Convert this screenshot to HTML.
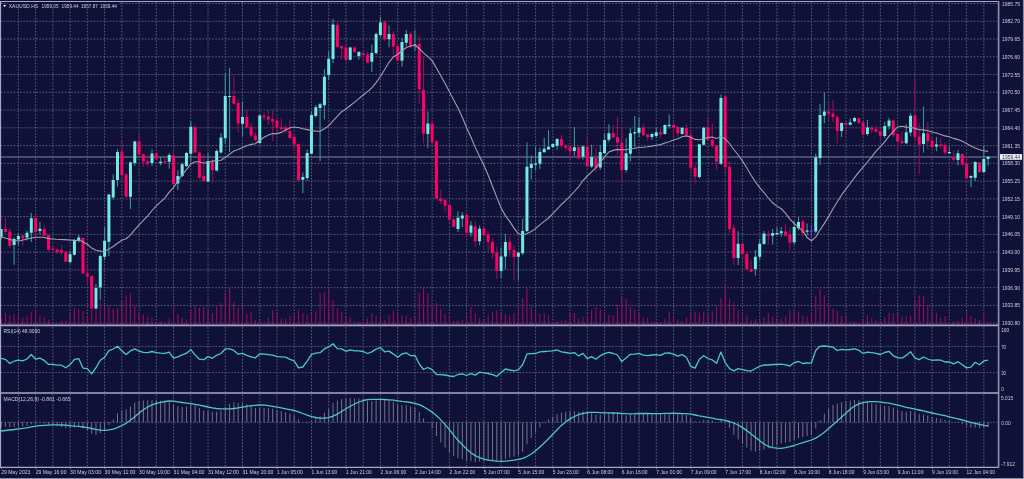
<!DOCTYPE html>
<html><head><meta charset="utf-8"><style>
html,body{margin:0;padding:0;background:#0f1138;width:1024px;height:479px;overflow:hidden}
body{position:relative}
</style></head><body>
<svg width="1024" height="479" viewBox="0 0 1024 479" style="position:absolute;left:0;top:0"><rect x="0" y="0" width="1024" height="479" fill="#0f1138"/><path d="M1 3.50H997.5 M1 21.26H997.5 M1 39.02H997.5 M1 56.78H997.5 M1 74.54H997.5 M1 92.30H997.5 M1 110.06H997.5 M1 127.82H997.5 M1 145.58H997.5 M1 163.34H997.5 M1 181.10H997.5 M1 198.86H997.5 M1 216.62H997.5 M1 234.38H997.5 M1 252.14H997.5 M1 269.90H997.5 M1 287.66H997.5 M1 305.42H997.5 M1 323.18H997.5 M1 346.40H997.5 M1 372.60H997.5 M18.39 2V324 M18.39 327V392 M18.39 394.5V466.5 M35.63 2V324 M35.63 327V392 M35.63 394.5V466.5 M52.87 2V324 M52.87 327V392 M52.87 394.5V466.5 M70.11 2V324 M70.11 327V392 M70.11 394.5V466.5 M87.35 2V324 M87.35 327V392 M87.35 394.5V466.5 M104.59 2V324 M104.59 327V392 M104.59 394.5V466.5 M121.83 2V324 M121.83 327V392 M121.83 394.5V466.5 M139.07 2V324 M139.07 327V392 M139.07 394.5V466.5 M156.31 2V324 M156.31 327V392 M156.31 394.5V466.5 M173.55 2V324 M173.55 327V392 M173.55 394.5V466.5 M190.79 2V324 M190.79 327V392 M190.79 394.5V466.5 M208.03 2V324 M208.03 327V392 M208.03 394.5V466.5 M225.27 2V324 M225.27 327V392 M225.27 394.5V466.5 M242.51 2V324 M242.51 327V392 M242.51 394.5V466.5 M259.75 2V324 M259.75 327V392 M259.75 394.5V466.5 M276.99 2V324 M276.99 327V392 M276.99 394.5V466.5 M294.23 2V324 M294.23 327V392 M294.23 394.5V466.5 M311.47 2V324 M311.47 327V392 M311.47 394.5V466.5 M328.71 2V324 M328.71 327V392 M328.71 394.5V466.5 M345.95 2V324 M345.95 327V392 M345.95 394.5V466.5 M363.19 2V324 M363.19 327V392 M363.19 394.5V466.5 M380.43 2V324 M380.43 327V392 M380.43 394.5V466.5 M397.67 2V324 M397.67 327V392 M397.67 394.5V466.5 M414.91 2V324 M414.91 327V392 M414.91 394.5V466.5 M432.15 2V324 M432.15 327V392 M432.15 394.5V466.5 M449.39 2V324 M449.39 327V392 M449.39 394.5V466.5 M466.63 2V324 M466.63 327V392 M466.63 394.5V466.5 M483.87 2V324 M483.87 327V392 M483.87 394.5V466.5 M501.11 2V324 M501.11 327V392 M501.11 394.5V466.5 M518.35 2V324 M518.35 327V392 M518.35 394.5V466.5 M535.59 2V324 M535.59 327V392 M535.59 394.5V466.5 M552.83 2V324 M552.83 327V392 M552.83 394.5V466.5 M570.07 2V324 M570.07 327V392 M570.07 394.5V466.5 M587.31 2V324 M587.31 327V392 M587.31 394.5V466.5 M604.55 2V324 M604.55 327V392 M604.55 394.5V466.5 M621.79 2V324 M621.79 327V392 M621.79 394.5V466.5 M639.03 2V324 M639.03 327V392 M639.03 394.5V466.5 M656.27 2V324 M656.27 327V392 M656.27 394.5V466.5 M673.51 2V324 M673.51 327V392 M673.51 394.5V466.5 M690.75 2V324 M690.75 327V392 M690.75 394.5V466.5 M707.99 2V324 M707.99 327V392 M707.99 394.5V466.5 M725.23 2V324 M725.23 327V392 M725.23 394.5V466.5 M742.47 2V324 M742.47 327V392 M742.47 394.5V466.5 M759.71 2V324 M759.71 327V392 M759.71 394.5V466.5 M776.95 2V324 M776.95 327V392 M776.95 394.5V466.5 M794.19 2V324 M794.19 327V392 M794.19 394.5V466.5 M811.43 2V324 M811.43 327V392 M811.43 394.5V466.5 M828.67 2V324 M828.67 327V392 M828.67 394.5V466.5 M845.91 2V324 M845.91 327V392 M845.91 394.5V466.5 M863.15 2V324 M863.15 327V392 M863.15 394.5V466.5 M880.39 2V324 M880.39 327V392 M880.39 394.5V466.5 M897.63 2V324 M897.63 327V392 M897.63 394.5V466.5 M914.87 2V324 M914.87 327V392 M914.87 394.5V466.5 M932.11 2V324 M932.11 327V392 M932.11 394.5V466.5 M949.35 2V324 M949.35 327V392 M949.35 394.5V466.5 M966.59 2V324 M966.59 327V392 M966.59 394.5V466.5 M983.83 2V324 M983.83 327V392 M983.83 394.5V466.5" stroke="#5c5f7e" stroke-width="1" stroke-dasharray="1.6 1.6" fill="none"/><path d="M1 422.3H997.5" stroke="#5c5f7e" stroke-width="1" stroke-dasharray="1.6 1.6" fill="none"/><path d="M1.15 324.5V318.6 M5.46 324.5V313.0 M9.77 324.5V315.3 M14.08 324.5V314.0 M18.39 324.5V315.3 M22.70 324.5V317.4 M27.01 324.5V316.8 M31.32 324.5V312.0 M35.63 324.5V309.9 M39.94 324.5V314.9 M44.25 324.5V316.8 M48.56 324.5V319.5 M52.87 324.5V322.8 M57.18 324.5V323.4 M61.49 324.5V320.8 M65.80 324.5V320.5 M70.11 324.5V313.0 M74.42 324.5V307.8 M78.73 324.5V309.3 M83.04 324.5V311.1 M87.35 324.5V316.5 M91.66 324.5V309.9 M95.97 324.5V302.4 M100.28 324.5V302.0 M104.59 324.5V307.0 M108.90 324.5V304.9 M113.21 324.5V309.3 M117.52 324.5V308.6 M121.83 324.5V301.1 M126.14 324.5V295.3 M130.45 324.5V293.3 M134.76 324.5V306.1 M139.07 324.5V312.8 M143.38 324.5V314.3 M147.69 324.5V316.5 M152.00 324.5V317.4 M156.31 324.5V322.0 M160.62 324.5V322.0 M164.93 324.5V322.4 M169.24 324.5V318.6 M173.55 324.5V305.5 M177.86 324.5V314.0 M182.17 324.5V317.0 M186.48 324.5V319.3 M190.79 324.5V309.3 M195.10 324.5V306.1 M199.41 324.5V307.4 M203.72 324.5V307.0 M208.03 324.5V309.3 M212.34 324.5V313.0 M216.65 324.5V304.9 M220.96 324.5V303.0 M225.27 324.5V293.0 M229.58 324.5V286.5 M233.89 324.5V302.0 M238.20 324.5V307.4 M242.51 324.5V307.2 M246.82 324.5V314.0 M251.13 324.5V312.0 M255.44 324.5V319.9 M259.75 324.5V319.9 M264.06 324.5V321.1 M268.37 324.5V317.4 M272.68 324.5V310.3 M276.99 324.5V314.5 M281.30 324.5V318.6 M285.61 324.5V319.0 M289.92 324.5V315.8 M294.23 324.5V313.0 M298.54 324.5V309.3 M302.85 324.5V313.0 M307.16 324.5V314.9 M311.47 324.5V314.0 M315.78 324.5V311.1 M320.09 324.5V293.0 M324.40 324.5V291.8 M328.71 324.5V288.6 M333.02 324.5V299.9 M337.33 324.5V307.8 M341.64 324.5V311.5 M345.95 324.5V316.1 M350.26 324.5V317.4 M354.57 324.5V322.0 M358.88 324.5V322.0 M363.19 324.5V322.4 M367.50 324.5V318.0 M371.81 324.5V313.0 M376.12 324.5V315.8 M380.43 324.5V315.3 M384.74 324.5V319.9 M389.05 324.5V314.9 M393.36 324.5V310.8 M397.67 324.5V314.0 M401.98 324.5V314.9 M406.29 324.5V315.8 M410.60 324.5V318.0 M414.91 324.5V317.0 M419.22 324.5V293.0 M423.53 324.5V286.8 M427.84 324.5V292.8 M432.15 324.5V306.1 M436.46 324.5V302.4 M440.77 324.5V309.0 M445.08 324.5V314.0 M449.39 324.5V316.5 M453.70 324.5V320.8 M458.01 324.5V319.9 M462.32 324.5V319.9 M466.63 324.5V317.0 M470.94 324.5V307.0 M475.25 324.5V312.8 M479.56 324.5V318.0 M483.87 324.5V319.0 M488.18 324.5V315.3 M492.49 324.5V312.0 M496.80 324.5V310.3 M501.11 324.5V314.0 M505.42 324.5V314.0 M509.73 324.5V314.9 M514.04 324.5V313.0 M518.35 324.5V307.0 M522.66 324.5V298.0 M526.97 324.5V288.3 M531.28 324.5V306.8 M535.59 324.5V310.8 M539.90 324.5V314.0 M544.21 324.5V313.6 M548.52 324.5V314.9 M552.83 324.5V322.0 M557.14 324.5V321.1 M561.45 324.5V320.8 M565.76 324.5V319.9 M570.07 324.5V313.0 M574.38 324.5V313.0 M578.69 324.5V318.6 M583.00 324.5V316.8 M587.31 324.5V315.8 M591.62 324.5V310.3 M595.93 324.5V307.0 M600.24 324.5V309.3 M604.55 324.5V313.0 M608.86 324.5V314.9 M613.17 324.5V315.3 M617.48 324.5V304.9 M621.79 324.5V298.3 M626.10 324.5V299.0 M630.41 324.5V307.0 M634.72 324.5V309.3 M639.03 324.5V314.0 M643.34 324.5V317.4 M647.65 324.5V318.0 M651.96 324.5V322.0 M656.27 324.5V321.8 M660.58 324.5V321.8 M664.89 324.5V318.6 M669.20 324.5V311.8 M673.51 324.5V315.8 M677.82 324.5V319.3 M682.13 324.5V321.1 M686.44 324.5V317.4 M690.75 324.5V312.8 M695.06 324.5V311.8 M699.37 324.5V312.8 M703.68 324.5V311.8 M707.99 324.5V314.5 M712.30 324.5V311.1 M716.61 324.5V305.8 M720.92 324.5V298.0 M725.23 324.5V284.0 M729.54 324.5V298.8 M733.85 324.5V302.5 M738.16 324.5V309.4 M742.47 324.5V315.0 M746.78 324.5V315.3 M751.09 324.5V320.6 M755.40 324.5V319.0 M759.71 324.5V320.0 M764.02 324.5V317.3 M768.33 324.5V312.8 M772.64 324.5V316.3 M776.95 324.5V317.8 M781.26 324.5V318.5 M785.57 324.5V316.3 M789.88 324.5V309.8 M794.19 324.5V311.3 M798.50 324.5V311.5 M802.81 324.5V315.0 M807.12 324.5V316.3 M811.43 324.5V314.0 M815.74 324.5V296.0 M820.05 324.5V289.4 M824.36 324.5V295.0 M828.67 324.5V305.6 M832.98 324.5V308.8 M837.29 324.5V311.0 M841.60 324.5V316.0 M845.91 324.5V315.6 M850.22 324.5V321.9 M854.53 324.5V322.3 M858.84 324.5V322.8 M863.15 324.5V319.0 M867.46 324.5V315.3 M871.77 324.5V317.8 M876.08 324.5V319.8 M880.39 324.5V321.0 M884.70 324.5V317.3 M889.01 324.5V313.1 M893.32 324.5V312.8 M897.63 324.5V314.0 M901.94 324.5V316.5 M906.25 324.5V316.3 M910.56 324.5V316.0 M914.87 324.5V300.3 M919.18 324.5V295.6 M923.49 324.5V296.5 M927.80 324.5V305.0 M932.11 324.5V311.3 M936.42 324.5V312.8 M940.73 324.5V317.8 M945.04 324.5V316.0 M949.35 324.5V322.3 M953.66 324.5V322.0 M957.97 324.5V320.8 M962.28 324.5V317.4 M966.59 324.5V311.1 M970.90 324.5V315.7 M975.21 324.5V318.5 M979.52 324.5V319.8 M983.83 324.5V315.2 M988.14 324.5V322.0" stroke="#960c5c" stroke-width="1.1" fill="none"/><path d="M1 157.0H997.5" stroke="#5c5e80" stroke-width="1.4" fill="none"/><path d="M1.15 229.1V240.5 M14.08 237.5V264.7 M18.39 233.2V245.0 M27.01 230.8V240.5 M31.32 213.1V241.9 M39.94 222.0V234.2 M70.11 250.9V263.7 M74.42 239.0V255.5 M78.73 235.0V242.5 M95.97 283.8V309.0 M100.28 254.2V300.2 M104.59 227.0V260.0 M108.90 194.0V255.9 M113.21 174.5V199.7 M117.52 149.2V186.5 M130.45 161.3V209.1 M134.76 140.5V165.7 M152.00 149.2V166.0 M160.62 157.0V165.5 M169.24 153.1V168.8 M177.86 170.2V190.0 M182.17 162.5V177.0 M186.48 152.0V167.0 M190.79 121.4V161.8 M208.03 153.1V182.0 M216.65 149.2V171.5 M220.96 132.9V153.6 M225.27 72.9V143.7 M229.58 67.9V151.9 M242.51 101.4V136.3 M259.75 114.0V144.4 M302.85 172.4V192.9 M307.16 149.2V180.8 M311.47 111.3V154.5 M315.78 105.2V117.4 M320.09 103.1V161.3 M324.40 69.2V119.4 M328.71 51.6V80.0 M333.02 19.0V63.1 M350.26 46.8V60.5 M358.88 50.9V59.7 M371.81 44.6V71.7 M376.12 32.6V54.7 M380.43 17.0V37.1 M389.05 25.6V47.3 M401.98 37.8V66.7 M406.29 30.1V46.6 M414.91 30.3V50.7 M427.84 111.4V148.0 M458.01 211.2V231.9 M462.32 212.0V227.3 M470.94 221.3V236.6 M479.56 225.6V245.2 M501.11 247.6V278.1 M505.42 234.3V269.2 M518.35 251.9V279.8 M522.66 218.5V255.0 M526.97 142.4V232.0 M531.28 155.5V179.7 M535.59 146.8V170.8 M539.90 147.8V169.1 M544.21 137.9V152.5 M548.52 130.2V149.8 M552.83 143.5V148.0 M557.14 138.3V149.8 M574.38 127.0V155.8 M583.00 145.5V159.7 M591.62 144.8V167.9 M600.24 145.1V169.9 M604.55 133.3V154.0 M608.86 124.2V142.1 M626.10 138.3V172.6 M630.41 128.3V161.4 M634.72 116.0V147.5 M639.03 117.4V136.9 M651.96 133.2V140.0 M656.27 127.8V138.0 M664.89 124.5V134.5 M669.20 114.6V128.5 M682.13 127.2V134.5 M699.37 143.8V178.6 M703.68 127.0V145.5 M720.92 94.4V165.1 M738.16 231.3V264.9 M755.40 250.0V275.5 M759.71 239.1V260.2 M764.02 231.0V244.8 M772.64 229.0V244.6 M776.95 227.4V235.0 M781.26 227.0V236.8 M794.19 221.2V244.6 M798.50 217.0V230.6 M807.12 223.5V235.7 M815.74 153.4V233.2 M820.05 104.1V165.0 M824.36 92.3V123.6 M841.60 122.6V137.0 M850.22 118.5V125.2 M854.53 117.0V122.5 M867.46 120.0V135.7 M884.70 121.9V138.0 M889.01 117.7V129.4 M906.25 124.0V144.3 M910.56 113.0V136.0 M923.49 106.6V152.7 M936.42 137.1V151.2 M949.35 146.5V154.0 M957.97 150.0V165.5 M970.90 175.2V187.3 M975.21 161.2V181.0 M983.83 145.3V173.5 M988.14 156.3V165.8" stroke="#3a9098" stroke-width="1.1" fill="none"/><path d="M5.46 217.9V232.8 M9.77 228.3V247.7 M22.70 235.1V245.7 M35.63 213.8V240.9 M44.25 225.3V236.2 M48.56 235.1V251.8 M52.87 245.7V253.1 M57.18 248.5V254.0 M61.49 245.0V254.6 M65.80 251.0V262.0 M83.04 237.0V273.8 M87.35 265.0V283.5 M91.66 275.5V309.3 M121.83 140.5V181.0 M126.14 173.5V197.5 M139.07 135.0V155.5 M143.38 153.5V166.8 M147.69 154.7V166.8 M156.31 152.5V160.1 M164.93 157.0V163.5 M173.55 150.1V184.5 M195.10 125.0V153.1 M199.41 152.0V178.5 M203.72 154.3V181.5 M212.34 159.0V183.3 M233.89 75.2V104.5 M238.20 99.3V132.2 M246.82 109.9V128.0 M251.13 123.4V137.6 M255.44 132.2V141.0 M264.06 112.4V120.5 M268.37 110.2V124.8 M272.68 109.9V141.1 M276.99 118.7V135.0 M281.30 118.0V131.0 M285.61 125.1V133.2 M289.92 119.4V138.6 M294.23 134.3V150.8 M298.54 143.1V182.0 M337.33 21.1V47.5 M341.64 45.5V59.7 M345.95 43.7V62.5 M354.57 46.2V53.0 M363.19 51.6V60.4 M367.50 51.6V63.3 M384.74 20.2V41.2 M393.36 31.0V54.7 M397.67 43.2V61.0 M410.60 31.7V48.0 M419.22 36.0V103.7 M423.53 56.1V143.2 M432.15 120.8V147.3 M436.46 140.0V199.0 M440.77 189.4V204.3 M445.08 199.6V211.4 M449.39 204.3V223.3 M453.70 218.5V227.5 M466.63 214.5V237.4 M475.25 221.7V246.8 M483.87 226.0V237.0 M488.18 231.1V252.6 M492.49 238.2V258.5 M496.80 246.8V278.9 M509.73 236.0V257.2 M514.04 245.7V280.1 M561.45 134.9V148.5 M565.76 144.1V150.9 M570.07 145.8V160.0 M578.69 146.5V159.7 M587.31 137.4V167.0 M595.93 147.5V172.0 M613.17 125.2V138.0 M617.48 116.4V155.0 M621.79 126.9V180.5 M643.34 123.7V135.9 M647.65 133.9V140.4 M660.58 128.7V138.0 M673.51 121.0V136.6 M677.82 126.4V136.6 M686.44 124.4V135.9 M690.75 130.2V170.9 M695.06 165.1V183.4 M707.99 117.0V141.0 M712.30 123.3V148.1 M716.61 145.0V170.5 M725.23 95.1V173.9 M729.54 161.0V232.9 M733.85 224.7V264.9 M742.47 241.5V258.7 M746.78 251.6V269.5 M751.09 260.2V272.3 M768.33 230.5V244.6 M785.57 224.3V236.8 M789.88 227.4V251.0 M802.81 219.6V236.0 M828.67 103.3V120.5 M832.98 99.7V122.1 M837.29 115.0V143.2 M845.91 122.3V134.6 M858.84 117.5V123.5 M863.15 122.0V135.4 M871.77 125.5V133.3 M876.08 125.5V132.5 M880.39 127.9V140.4 M893.32 120.0V137.0 M897.63 133.3V150.6 M901.94 131.0V143.5 M914.87 78.0V141.2 M919.18 123.5V173.9 M927.80 121.9V149.6 M932.11 137.1V148.8 M940.73 137.9V148.8 M945.04 142.6V155.1 M953.66 150.9V161.4 M962.28 153.5V165.3 M966.59 156.3V179.8 M979.52 162.0V172.9" stroke="#960c58" stroke-width="1.1" fill="none"/><path d="M811.43 224.8V237.6" stroke="#7040d0" stroke-width="1.1" fill="none"/><path d="M-0.35 229.1h3v7.8h-3z M12.58 238.9h3v6.1h-3z M16.89 235.9h3v3.7h-3z M25.51 232.8h3v4.7h-3z M29.82 218.3h3v14.5h-3z M38.44 228.7h3v2.3h-3z M68.61 254.2h3v7.9h-3z M72.92 240.0h3v14.7h-3z M77.23 237.5h3v3.3h-3z M94.47 288.0h3v20.5h-3z M98.78 255.9h3v31.7h-3z M103.09 240.8h3v15.9h-3z M107.40 194.6h3v47.1h-3z M111.71 180.0h3v17.5h-3z M116.02 152.0h3v28.0h-3z M128.95 162.4h3v34.4h-3z M133.26 141.6h3v21.4h-3z M150.50 153.4h3v9.6h-3z M159.12 161.8h3v1.3h-3z M167.74 155.1h3v6.7h-3z M176.36 176.0h3v7.5h-3z M180.67 164.3h3v11.7h-3z M184.98 153.1h3v12.9h-3z M189.29 126.7h3v27.1h-3z M206.53 161.0h3v20.5h-3z M215.15 150.9h3v19.5h-3z M219.46 137.6h3v14.9h-3z M223.77 95.9h3v42.4h-3z M228.08 95.9h3v1.2h-3z M241.01 117.0h3v6.8h-3z M258.25 115.6h3v27.4h-3z M301.35 177.0h3v2.7h-3z M305.66 152.9h3v25.0h-3z M309.97 115.1h3v38.6h-3z M314.28 107.2h3v8.8h-3z M318.59 104.2h3v3.7h-3z M322.90 76.7h3v28.5h-3z M327.21 58.7h3v16.2h-3z M331.52 24.5h3v34.6h-3z M348.76 47.5h3v12.2h-3z M357.38 51.9h3v4.1h-3z M370.31 53.0h3v8.8h-3z M374.62 34.1h3v18.9h-3z M378.93 22.5h3v12.6h-3z M387.55 34.1h3v5.1h-3z M400.48 41.9h3v18.9h-3z M404.79 34.1h3v8.7h-3z M413.41 44.6h3v1.4h-3z M426.34 123.6h3v10.5h-3z M456.51 217.8h3v11.2h-3z M460.82 215.5h3v3.1h-3z M469.44 225.6h3v7.1h-3z M478.06 228.8h3v12.5h-3z M499.61 256.6h3v14.4h-3z M503.92 242.1h3v14.5h-3z M516.85 252.7h3v4.1h-3z M521.16 231.0h3v22.3h-3z M525.47 166.8h3v64.2h-3z M529.78 164.1h3v4.0h-3z M534.09 163.4h3v1.3h-3z M538.40 151.9h3v11.8h-3z M542.71 148.7h3v3.6h-3z M547.02 146.8h3v2.8h-3z M551.33 144.1h3v3.0h-3z M555.64 139.0h3v6.8h-3z M572.88 147.2h3v3.7h-3z M581.50 146.5h3v10.3h-3z M590.12 157.0h3v9.5h-3z M598.74 151.9h3v15.7h-3z M603.05 140.1h3v13.1h-3z M607.36 133.3h3v6.4h-3z M624.60 153.2h3v16.7h-3z M628.91 133.3h3v20.5h-3z M633.22 132.3h3v1.3h-3z M637.53 127.8h3v5.0h-3z M650.46 133.9h3v3.0h-3z M654.77 132.3h3v3.6h-3z M663.39 125.1h3v8.8h-3z M667.70 124.7h3v1.3h-3z M680.63 127.8h3v6.1h-3z M697.87 144.2h3v32.7h-3z M702.18 127.7h3v17.1h-3z M719.42 98.0h3v65.7h-3z M736.66 243.8h3v14.1h-3z M753.90 256.7h3v12.2h-3z M758.21 243.8h3v12.9h-3z M762.52 233.6h3v10.5h-3z M771.14 232.9h3v2.8h-3z M775.45 232.9h3v1.6h-3z M779.76 231.3h3v1.9h-3z M792.69 227.0h3v15.3h-3z M797.00 222.0h3v6.2h-3z M805.62 230.6h3v1.2h-3z M814.24 157.3h3v74.3h-3z M818.55 115.0h3v43.1h-3z M822.86 111.6h3v4.2h-3z M840.10 122.9h3v8.1h-3z M848.72 122.6h3v2.1h-3z M853.03 117.9h3v3.4h-3z M865.96 127.4h3v6.6h-3z M883.20 126.0h3v10.0h-3z M887.51 120.4h3v5.9h-3z M904.75 132.2h3v11.0h-3z M909.06 115.7h3v16.9h-3z M921.99 133.2h3v10.9h-3z M934.92 144.4h3v2.1h-3z M947.85 152.0h3v1.2h-3z M956.47 153.2h3v6.9h-3z M969.40 176.1h3v1.7h-3z M973.71 162.0h3v15.8h-3z M982.33 159.1h3v12.9h-3z M986.64 156.8h3v2.1h-3z" fill="#72ece2"/><path d="M3.96 229.1h3v3.0h-3z M8.27 231.4h3v14.3h-3z M21.20 235.5h3v2.7h-3z M34.13 217.9h3v14.2h-3z M42.75 229.1h3v6.4h-3z M47.06 235.1h3v14.6h-3z M51.37 248.7h3v1.2h-3z M55.68 249.5h3v2.8h-3z M59.99 250.0h3v2.5h-3z M64.30 251.7h3v10.0h-3z M81.54 238.0h3v35.4h-3z M85.85 273.4h3v3.0h-3z M90.16 276.0h3v32.5h-3z M120.33 151.4h3v23.7h-3z M124.64 174.5h3v22.3h-3z M137.57 141.6h3v13.1h-3z M141.88 154.3h3v7.4h-3z M146.19 161.3h3v2.2h-3z M154.81 153.3h3v6.0h-3z M163.43 161.0h3v1.6h-3z M172.05 155.5h3v28.4h-3z M193.60 127.5h3v25.1h-3z M197.91 152.6h3v25.1h-3z M202.22 176.0h3v5.0h-3z M210.84 161.8h3v8.2h-3z M232.39 95.9h3v7.8h-3z M236.70 103.1h3v20.3h-3z M245.32 117.0h3v10.5h-3z M249.63 126.8h3v8.8h-3z M253.94 135.6h3v4.5h-3z M262.56 115.8h3v1.2h-3z M266.87 116.8h3v2.7h-3z M271.18 119.1h3v2.3h-3z M275.49 120.5h3v7.3h-3z M279.80 127.5h3v1.4h-3z M284.11 127.5h3v2.5h-3z M288.42 130.9h3v7.2h-3z M292.73 137.0h3v7.6h-3z M297.04 144.1h3v36.1h-3z M335.83 24.8h3v22.1h-3z M340.14 46.2h3v2.4h-3z M344.45 47.5h3v12.2h-3z M353.07 47.5h3v4.4h-3z M361.69 53.0h3v2.0h-3z M366.00 54.6h3v8.1h-3z M383.24 22.2h3v17.0h-3z M391.86 34.1h3v12.5h-3z M396.17 45.9h3v14.5h-3z M409.10 34.1h3v12.5h-3z M417.72 43.9h3v45.3h-3z M422.03 90.1h3v43.6h-3z M430.65 123.6h3v18.7h-3z M434.96 141.2h3v57.4h-3z M439.27 198.6h3v2.3h-3z M443.58 200.0h3v5.7h-3z M447.89 205.0h3v14.5h-3z M452.20 219.2h3v7.5h-3z M465.13 215.0h3v17.7h-3z M473.75 226.4h3v14.9h-3z M482.37 228.5h3v6.5h-3z M486.68 234.3h3v7.8h-3z M490.99 242.1h3v10.9h-3z M495.30 252.6h3v18.1h-3z M508.23 241.8h3v8.1h-3z M512.54 249.9h3v7.1h-3z M559.95 139.0h3v6.8h-3z M564.26 145.8h3v2.0h-3z M568.57 146.8h3v4.4h-3z M577.19 147.0h3v11.2h-3z M585.81 146.5h3v20.0h-3z M594.43 158.1h3v9.8h-3z M611.67 132.9h3v4.5h-3z M615.98 137.0h3v5.8h-3z M620.29 142.8h3v27.1h-3z M641.84 127.8h3v7.5h-3z M646.15 134.6h3v2.3h-3z M659.08 132.3h3v2.3h-3z M672.01 125.1h3v2.7h-3z M676.32 127.1h3v6.1h-3z M684.94 128.0h3v7.3h-3z M689.25 135.3h3v32.5h-3z M693.56 167.8h3v8.8h-3z M706.49 127.3h3v12.4h-3z M710.80 139.7h3v6.4h-3z M715.11 145.7h3v16.0h-3z M723.73 96.6h3v70.5h-3z M728.04 166.8h3v62.2h-3z M732.35 228.2h3v29.7h-3z M740.97 243.8h3v10.2h-3z M745.28 254.0h3v14.9h-3z M749.59 268.9h3v2.8h-3z M766.83 234.3h3v1.5h-3z M784.07 231.6h3v4.1h-3z M788.38 234.5h3v8.1h-3z M801.31 221.6h3v11.3h-3z M827.17 111.6h3v2.2h-3z M831.48 113.5h3v3.4h-3z M835.79 116.9h3v14.1h-3z M844.41 122.9h3v1.8h-3z M857.34 118.2h3v4.7h-3z M861.65 122.6h3v12.0h-3z M870.27 127.6h3v1.8h-3z M874.58 129.1h3v2.7h-3z M878.89 131.3h3v4.4h-3z M891.82 120.4h3v14.5h-3z M896.13 134.1h3v7.5h-3z M900.44 141.2h3v2.0h-3z M913.37 115.5h3v21.5h-3z M917.68 136.6h3v7.8h-3z M926.30 133.2h3v8.1h-3z M930.61 141.0h3v5.9h-3z M939.23 144.4h3v1.3h-3z M943.54 144.9h3v7.8h-3z M952.16 157.8h3v1.9h-3z M960.78 154.0h3v10.7h-3z M965.09 163.7h3v14.5h-3z M978.02 162.6h3v9.4h-3z" fill="#ff0064"/><path d="M809.93 230.6h3v1.2h-3z" fill="#7040d0"/><polyline points="0.0,236.5 13.6,240.5 19.0,241.0 27.0,239.0 35.3,237.3 43.4,237.3 48.8,238.6 56.0,239.2 64.0,239.6 81.0,240.8 83.0,241.9 87.3,244.3 91.7,248.1 96.0,250.2 100.3,251.1 104.6,251.3 108.9,249.1 113.2,246.5 117.5,243.2 121.8,240.3 126.1,238.7 130.4,235.1 134.8,229.7 139.1,224.9 143.4,220.4 147.7,215.9 152.0,210.5 156.3,205.8 160.6,201.9 164.9,198.1 169.2,192.2 173.5,187.6 177.9,181.0 182.2,174.8 186.5,169.6 190.8,163.9 195.1,161.8 199.4,161.7 203.7,163.2 208.0,162.5 212.3,161.1 216.6,160.5 221.0,160.3 225.3,157.4 229.6,154.1 233.9,151.1 238.2,149.6 242.5,147.5 246.8,145.8 251.1,144.4 255.4,143.7 259.7,140.3 264.1,137.3 268.4,135.1 272.7,133.5 277.0,133.6 281.3,132.4 285.6,130.0 289.9,127.8 294.2,127.0 298.5,127.5 302.8,128.8 307.2,129.6 311.5,130.6 315.8,131.1 320.1,131.2 324.4,128.8 328.7,125.9 333.0,120.8 337.3,116.3 341.6,111.7 345.9,109.0 350.3,105.5 354.6,102.1 358.9,98.6 363.2,95.0 367.5,91.7 371.8,87.8 376.1,82.6 380.4,76.5 384.7,69.5 389.0,62.3 393.4,57.0 397.7,54.3 402.0,51.0 406.3,47.5 410.6,46.0 414.9,45.3 419.2,48.5 423.5,52.9 427.8,56.6 432.1,60.7 436.5,68.3 440.8,75.8 445.1,83.4 449.4,91.7 453.7,99.9 458.0,108.1 462.3,117.2 466.6,127.7 470.9,137.0 475.2,147.4 479.6,156.5 483.9,165.2 488.2,175.2 492.5,186.2 496.8,197.4 501.1,208.0 505.4,215.6 509.7,221.4 514.0,228.1 518.3,233.6 522.7,235.2 527.0,233.5 531.3,231.4 535.6,228.6 539.9,224.9 544.2,221.4 548.5,218.0 552.8,213.6 557.1,209.2 561.4,204.5 565.8,200.4 570.1,196.2 574.4,191.5 578.7,186.7 583.0,180.5 587.3,176.0 591.6,171.8 595.9,167.7 600.2,162.4 604.5,156.8 608.9,151.9 613.2,150.4 617.5,149.4 621.8,149.7 626.1,149.8 630.4,149.0 634.7,148.3 639.0,147.5 643.3,147.3 647.6,146.8 652.0,146.1 656.3,145.2 660.6,144.6 664.9,142.9 669.2,141.8 673.5,139.9 677.8,138.7 682.1,136.7 686.4,135.9 690.7,137.2 695.1,139.4 699.4,139.7 703.7,139.0 708.0,137.5 712.3,137.1 716.6,138.5 720.9,136.8 725.2,138.8 729.5,143.5 733.8,149.5 738.2,155.0 742.5,161.1 746.8,167.8 751.1,175.2 755.4,181.7 759.7,187.6 764.0,192.6 768.3,198.0 772.6,202.8 776.9,206.1 781.3,208.8 785.6,213.4 789.9,219.2 794.2,223.5 798.5,227.3 802.8,230.9 807.1,237.5 811.4,240.7 815.7,237.1 820.0,230.0 824.4,223.4 828.7,216.4 833.0,208.8 837.3,201.7 841.6,195.0 845.9,189.1 850.2,183.5 854.5,177.6 858.8,172.1 863.1,167.2 867.5,162.0 871.8,156.7 876.1,151.2 880.4,146.6 884.7,141.8 889.0,136.2 893.3,131.4 897.6,126.9 901.9,126.2 906.2,127.1 910.6,127.3 914.9,128.4 919.2,129.8 923.5,129.9 927.8,130.8 932.1,132.0 936.4,133.0 940.7,134.4 945.0,135.9 949.3,136.8 953.7,138.4 958.0,139.6 962.3,141.2 966.6,143.4 970.9,145.9 975.2,148.0 979.5,149.8 983.8,150.7 988.1,151.4" stroke="#a0a0b0" stroke-width="1.1" fill="none"/><polyline points="1.1,358.4 5.5,359.4 9.8,363.5 14.1,361.2 18.4,360.2 22.7,360.9 27.0,359.0 31.3,354.5 35.6,359.2 39.9,358.2 44.2,360.4 48.6,364.4 52.9,364.4 57.2,365.2 61.5,365.2 65.8,367.8 70.1,364.6 74.4,359.4 78.7,358.6 83.0,368.1 87.3,368.7 91.7,373.9 96.0,367.7 100.3,360.2 104.6,357.4 108.9,350.7 113.2,349.0 117.5,346.2 121.8,350.8 126.1,354.6 130.4,350.9 134.8,348.9 139.1,351.2 143.4,352.4 147.7,352.7 152.0,351.5 156.3,352.6 160.6,353.1 164.9,353.3 169.2,352.2 173.5,358.1 177.9,356.8 182.2,354.9 186.5,353.2 190.8,349.7 195.1,354.9 199.4,359.2 203.7,359.7 208.0,356.6 212.3,358.2 216.6,355.3 221.0,353.5 225.3,348.8 229.6,348.8 233.9,350.4 238.2,354.2 242.5,353.4 246.8,355.4 251.1,356.9 255.4,357.8 259.7,353.9 264.1,354.2 268.4,354.7 272.7,355.2 277.0,356.7 281.3,356.9 285.6,357.2 289.9,359.3 294.2,360.9 298.5,367.9 302.8,367.0 307.2,361.1 311.5,354.3 315.8,353.1 320.1,352.7 324.4,348.9 328.7,346.9 333.0,343.7 337.3,348.6 341.6,348.9 345.9,351.3 350.3,349.8 354.6,350.8 358.9,350.8 363.2,351.5 367.5,353.5 371.8,351.9 376.1,349.1 380.4,347.5 384.7,351.8 389.0,351.1 393.4,354.1 397.7,357.3 402.0,354.0 406.3,352.8 410.6,355.7 414.9,355.3 419.2,363.8 423.5,369.5 427.8,367.5 432.1,369.6 436.5,374.5 440.8,374.6 445.1,375.0 449.4,376.0 453.7,376.5 458.0,374.5 462.3,373.9 466.6,375.5 470.9,373.7 475.2,375.2 479.6,372.1 483.9,372.8 488.2,373.5 492.5,374.7 496.8,376.3 501.1,372.6 505.4,369.0 509.7,370.0 514.0,370.9 518.3,369.8 522.7,364.5 527.0,353.9 531.3,353.6 535.6,353.5 539.9,351.9 544.2,351.5 548.5,351.2 552.8,350.8 557.1,350.0 561.4,351.9 565.8,352.5 570.1,353.4 574.4,352.6 578.7,355.9 583.0,353.4 587.3,358.7 591.6,356.6 595.9,359.3 600.2,355.8 604.5,353.6 608.9,352.4 613.2,353.5 617.5,355.0 621.8,361.6 626.1,357.9 630.4,354.3 634.7,354.1 639.0,353.3 643.3,355.2 647.6,355.7 652.0,355.0 656.3,354.6 660.6,355.4 664.9,353.1 669.2,353.0 673.5,354.1 677.8,356.1 682.1,354.6 686.4,357.3 690.7,366.3 695.1,368.1 699.4,359.2 703.7,355.7 708.0,358.5 712.3,359.9 716.6,363.2 720.9,352.1 725.2,362.6 729.5,368.6 733.8,370.8 738.2,368.7 742.5,369.6 746.8,370.7 751.1,371.0 755.4,368.5 759.7,366.4 764.0,364.8 768.3,365.0 772.6,364.5 776.9,364.5 781.3,364.2 785.6,364.9 789.9,366.0 794.2,362.6 798.5,361.5 802.8,363.5 807.1,363.0 811.4,363.1 815.7,350.5 820.0,346.3 824.4,346.0 828.7,346.5 833.0,347.2 837.3,350.4 841.6,349.4 845.9,349.8 850.2,349.5 854.5,348.9 858.8,350.2 863.1,353.4 867.5,352.1 871.8,352.7 876.1,353.4 880.4,354.5 884.7,352.5 889.0,351.3 893.3,355.8 897.6,357.7 901.9,358.2 906.2,355.4 910.6,351.8 914.9,357.8 919.2,359.6 923.5,357.0 927.8,359.0 932.1,360.4 936.4,359.8 940.7,360.1 945.0,362.0 949.3,361.8 953.7,363.9 958.0,361.7 962.3,364.8 966.6,367.9 970.9,367.1 975.2,362.3 979.5,364.8 983.8,360.9 988.1,360.2" stroke="#4cc8c4" stroke-width="1.3" fill="none" stroke-linejoin="round"/><path d="M1.15 422.3V427.3 M5.46 422.3V426.7 M9.77 422.3V427.2 M14.08 422.3V427.0 M18.39 422.3V426.6 M22.70 422.3V426.4 M27.01 422.3V425.8 M31.32 422.3V424.2 M35.63 422.3V423.9 M39.94 422.3V423.4 M44.25 422.3V423.6 M48.56 422.3V424.7 M52.87 422.3V425.6 M57.18 422.3V426.4 M61.49 422.3V427.1 M65.80 422.3V428.2 M70.11 422.3V428.4 M74.42 422.3V427.5 M78.73 422.3V426.5 M83.04 422.3V428.4 M87.35 422.3V430.0 M91.66 422.3V433.6 M95.97 422.3V434.7 M100.28 422.3V433.1 M104.59 422.3V430.5 M108.90 422.3V425.0 M113.21 422.3V419.6 M117.52 422.3V413.2 M121.83 422.3V410.1 M126.14 422.3V409.4 M130.45 422.3V406.4 M134.76 422.3V402.7 M139.07 422.3V401.0 M143.38 422.3V400.5 M147.69 422.3V400.4 M152.00 422.3V399.9 M156.31 422.3V400.1 M160.62 422.3V400.8 M164.93 422.3V401.6 M169.24 422.3V401.9 M173.55 422.3V404.5 M177.86 422.3V406.2 M182.17 422.3V406.8 M186.48 422.3V406.6 M190.79 422.3V404.7 M195.10 422.3V405.3 M199.41 422.3V407.9 M203.72 422.3V410.3 M208.03 422.3V410.8 M212.34 422.3V412.1 M216.65 422.3V411.7 M220.96 422.3V410.6 M225.27 422.3V406.7 M229.58 422.3V403.8 M233.89 422.3V402.4 M238.20 422.3V402.9 M242.51 422.3V403.1 M246.82 422.3V404.3 M251.13 422.3V406.0 M255.44 422.3V407.8 M259.75 422.3V407.6 M264.06 422.3V407.7 M268.37 422.3V408.2 M272.68 422.3V408.8 M276.99 422.3V410.0 M281.30 422.3V411.1 M285.61 422.3V412.2 M289.92 422.3V413.7 M294.23 422.3V415.5 M298.54 422.3V419.7 M302.85 422.3V422.7 M307.16 422.3V423.3 M311.47 422.3V420.9 M315.78 422.3V418.5 M320.09 422.3V416.4 M324.40 422.3V412.8 M328.71 422.3V408.7 M333.02 422.3V403.1 M337.33 422.3V400.6 M341.64 422.3V399.1 M345.95 422.3V398.9 M350.26 422.3V398.2 M354.57 422.3V398.2 M358.88 422.3V398.5 M363.19 422.3V399.2 M367.50 422.3V400.6 M371.81 422.3V401.2 M376.12 422.3V400.5 M380.43 422.3V399.4 M384.74 422.3V400.0 M389.05 422.3V400.3 M393.36 422.3V401.8 M397.67 422.3V404.2 M401.98 422.3V404.9 M406.29 422.3V405.1 M410.60 422.3V406.3 M414.91 422.3V407.4 M419.22 422.3V411.7 M423.53 422.3V418.5 M427.84 422.3V423.1 M432.15 422.3V428.1 M436.46 422.3V436.2 M440.77 422.3V442.5 M445.08 422.3V447.6 M449.39 422.3V452.3 M453.70 422.3V456.2 M458.01 422.3V458.2 M462.32 422.3V459.2 M466.63 422.3V460.9 M470.94 422.3V461.2 M475.25 422.3V462.2 M479.56 422.3V461.5 M483.87 422.3V461.1 M488.18 422.3V460.8 M492.49 422.3V460.9 M496.80 422.3V461.9 M501.11 422.3V461.2 M505.42 422.3V459.1 M509.73 422.3V457.7 M514.04 422.3V456.6 M518.35 422.3V455.1 M522.66 422.3V451.9 M526.97 422.3V444.3 M531.28 422.3V437.9 M535.59 422.3V432.6 M539.90 422.3V427.5 M544.21 422.3V423.2 M548.52 422.3V419.7 M552.83 422.3V416.8 M557.14 422.3V414.2 M561.45 422.3V412.7 M565.76 422.3V411.8 M570.07 422.3V411.5 M574.38 422.3V411.1 M578.69 422.3V411.7 M583.00 422.3V411.5 M587.31 422.3V412.9 M591.62 422.3V413.4 M595.93 422.3V414.7 M600.24 422.3V414.6 M604.55 422.3V413.7 M608.86 422.3V412.7 M613.17 422.3V412.2 M617.48 422.3V412.4 M621.79 422.3V414.7 M626.10 422.3V415.3 M630.41 422.3V414.4 M634.72 422.3V413.7 M639.03 422.3V412.9 M643.34 422.3V412.9 M647.65 422.3V413.2 M651.96 422.3V413.3 M656.27 422.3V413.3 M660.58 422.3V413.7 M664.89 422.3V413.3 M669.20 422.3V413.1 M673.51 422.3V413.3 M677.82 422.3V413.9 M682.13 422.3V414.1 M686.44 422.3V414.9 M690.75 422.3V418.0 M695.06 422.3V421.2 M699.37 422.3V421.3 M703.68 422.3V420.1 M707.99 422.3V420.1 M712.30 422.3V420.6 M716.61 422.3V422.2 M720.92 422.3V418.7 M725.23 422.3V421.2 M729.54 422.3V427.7 M733.85 422.3V434.9 M738.16 422.3V439.4 M742.47 422.3V443.5 M746.78 422.3V447.5 M751.09 422.3V450.6 M755.40 422.3V451.6 M759.71 422.3V451.1 M764.02 422.3V449.6 M768.33 422.3V448.3 M772.64 422.3V446.7 M776.95 422.3V445.2 M781.26 422.3V443.7 M785.57 422.3V442.5 M789.88 422.3V441.9 M794.19 422.3V440.1 M798.50 422.3V438.1 M802.81 422.3V437.1 M807.12 422.3V436.0 M811.43 422.3V435.0 M815.74 422.3V428.6 M820.05 422.3V420.4 M824.36 422.3V413.7 M828.67 422.3V408.7 M832.98 422.3V405.1 M837.29 422.3V403.6 M841.60 422.3V402.1 M845.91 422.3V401.2 M850.22 422.3V400.6 M854.53 422.3V400.0 M858.84 422.3V400.2 M863.15 422.3V401.5 M867.46 422.3V402.2 M871.77 422.3V403.1 M876.08 422.3V404.2 M880.39 422.3V405.6 M884.70 422.3V406.1 M889.01 422.3V406.3 M893.32 422.3V407.7 M897.63 422.3V409.5 M901.94 422.3V411.2 M906.25 422.3V411.8 M910.56 422.3V411.1 M914.87 422.3V412.3 M919.18 422.3V414.0 M923.49 422.3V414.5 M927.80 422.3V415.6 M932.11 422.3V417.0 M936.42 422.3V417.9 M940.73 422.3V418.8 M945.04 422.3V420.0 M949.35 422.3V421.0 M953.66 422.3V422.3 M957.97 422.3V422.9 M962.28 422.3V424.2 M966.59 422.3V426.2 M970.90 422.3V427.6 M975.21 422.3V427.5 M979.52 422.3V428.2 M983.83 422.3V427.7 M988.14 422.3V427.0" stroke="#72728c" stroke-width="1" fill="none"/><polyline points="1.1,431.0 5.5,430.5 9.8,430.0 14.1,429.5 18.4,428.9 22.7,428.4 27.0,427.8 31.3,426.9 35.6,426.1 39.9,425.7 44.2,425.3 48.6,425.1 52.9,424.9 57.2,424.9 61.5,425.0 65.8,425.2 70.1,425.7 74.4,426.1 78.7,426.4 83.0,427.0 87.3,427.6 91.7,428.5 96.0,429.4 100.3,430.1 104.6,430.3 108.9,429.9 113.2,429.1 117.5,427.6 121.8,425.5 126.1,423.3 130.4,420.2 134.8,416.7 139.1,413.1 143.4,409.8 147.7,407.0 152.0,404.9 156.3,403.4 160.6,402.4 164.9,401.5 169.2,401.0 173.5,401.2 177.9,401.8 182.2,402.5 186.5,403.2 190.8,403.7 195.1,404.3 199.4,405.1 203.7,406.0 208.0,407.0 212.3,407.9 216.6,408.5 221.0,408.9 225.3,408.9 229.6,408.8 233.9,408.5 238.2,407.9 242.5,407.1 246.8,406.4 251.1,405.7 255.4,405.3 259.7,405.0 264.1,405.1 268.4,405.6 272.7,406.3 277.0,407.1 281.3,407.9 285.6,408.8 289.9,409.7 294.2,410.5 298.5,411.9 302.8,413.5 307.2,415.2 311.5,416.6 315.8,417.5 320.1,418.1 324.4,418.2 328.7,417.6 333.0,416.2 337.3,414.1 341.6,411.5 345.9,408.8 350.3,406.3 354.6,404.0 358.9,402.0 363.2,400.5 367.5,399.6 371.8,399.4 376.1,399.4 380.4,399.4 384.7,399.5 389.0,399.8 393.4,400.2 397.7,400.8 402.0,401.4 406.3,401.9 410.6,402.5 414.9,403.3 419.2,404.6 423.5,406.7 427.8,409.2 432.1,412.1 436.5,415.7 440.8,419.9 445.1,424.6 449.4,429.7 453.7,435.1 458.0,440.3 462.3,444.8 466.6,449.0 470.9,452.7 475.2,455.6 479.6,457.7 483.9,459.2 488.2,460.1 492.5,460.7 496.8,461.1 501.1,461.3 505.4,461.1 509.7,460.7 514.0,460.1 518.3,459.4 522.7,458.4 527.0,456.5 531.3,454.0 535.6,450.7 539.9,447.0 544.2,443.0 548.5,438.8 552.8,434.3 557.1,429.8 561.4,425.4 565.8,421.8 570.1,418.9 574.4,416.5 578.7,414.7 583.0,413.4 587.3,412.7 591.6,412.3 595.9,412.4 600.2,412.6 604.5,412.8 608.9,412.9 613.2,413.0 617.5,413.1 621.8,413.5 626.1,413.7 630.4,413.8 634.7,413.7 639.0,413.5 643.3,413.5 647.6,413.5 652.0,413.6 656.3,413.7 660.6,413.6 664.9,413.4 669.2,413.3 673.5,413.2 677.8,413.3 682.1,413.5 686.4,413.6 690.7,414.2 695.1,415.0 699.4,415.9 703.7,416.6 708.0,417.4 712.3,418.2 716.6,419.2 720.9,419.7 725.2,420.4 729.5,421.5 733.8,423.0 738.2,425.0 742.5,427.6 746.8,430.6 751.1,434.0 755.4,437.2 759.7,440.8 764.0,444.0 768.3,446.3 772.6,447.6 776.9,448.2 781.3,448.3 785.6,447.7 789.9,446.7 794.2,445.5 798.5,444.0 802.8,442.6 807.1,441.3 811.4,440.0 815.7,438.1 820.0,435.5 824.4,432.3 828.7,428.6 833.0,424.7 837.3,420.9 841.6,417.0 845.9,413.2 850.2,409.3 854.5,406.1 858.8,403.9 863.1,402.6 867.5,401.8 871.8,401.6 876.1,401.7 880.4,402.1 884.7,402.6 889.0,403.2 893.3,404.1 897.6,405.1 901.9,406.2 906.2,407.3 910.6,408.2 914.9,409.1 919.2,410.0 923.5,410.9 927.8,412.0 932.1,413.0 936.4,413.9 940.7,414.8 945.0,415.7 949.3,416.8 953.7,417.9 958.0,418.9 962.3,420.0 966.6,421.1 970.9,422.3 975.2,423.4 979.5,424.4 983.8,425.3 988.1,425.9" stroke="#4cc8c4" stroke-width="1.3" fill="none" stroke-linejoin="round"/><path d="M0 1.5H998.5M0.5 1V467M0 467.3H998.5" stroke="#a8a8c4" stroke-width="1.2" fill="none"/><path d="M1023.5 0V479M0 478.5H1024" stroke="#8a8aa2" stroke-width="1.2" fill="none"/><path d="M998.6 1V467.8" stroke="#8a8aa8" stroke-width="1.7" fill="none"/><path d="M0 325.3H998.5" stroke="#a8a8c4" stroke-width="1.7" fill="none"/><path d="M0 393.1H998.5" stroke="#a8a8c4" stroke-width="1.5" fill="none"/><path d="M3 5H6.2L4.6 7Z" fill="#ffffff"/><rect x="8.2" y="2.3" width="110" height="6.3" fill="#0f1138"/><text x="8.75" y="7.5" font-family='"Liberation Sans", Arial, sans-serif' font-size="6.0" fill="#cdd0de" textLength="29.4" lengthAdjust="spacingAndGlyphs">XAUUSD.HS</text><text x="41.6" y="7.5" font-family='"Liberation Sans", Arial, sans-serif' font-size="6.0" fill="#cdd0de" textLength="16.9" lengthAdjust="spacingAndGlyphs">1959.05</text><text x="61.6" y="7.5" font-family='"Liberation Sans", Arial, sans-serif' font-size="6.0" fill="#cdd0de" textLength="16.9" lengthAdjust="spacingAndGlyphs">1959.44</text><text x="81" y="7.5" font-family='"Liberation Sans", Arial, sans-serif' font-size="6.0" fill="#cdd0de" textLength="16.9" lengthAdjust="spacingAndGlyphs">1957.87</text><text x="100" y="7.5" font-family='"Liberation Sans", Arial, sans-serif' font-size="6.0" fill="#cdd0de" textLength="16.9" lengthAdjust="spacingAndGlyphs">1959.44</text><text x="1002" y="5.50" font-family='"Liberation Sans", Arial, sans-serif' font-size="6.0" fill="#cdd0de" textLength="17.9" lengthAdjust="spacingAndGlyphs">1985.75</text><text x="1002" y="23.26" font-family='"Liberation Sans", Arial, sans-serif' font-size="6.0" fill="#cdd0de" textLength="17.9" lengthAdjust="spacingAndGlyphs">1982.70</text><text x="1002" y="41.02" font-family='"Liberation Sans", Arial, sans-serif' font-size="6.0" fill="#cdd0de" textLength="17.9" lengthAdjust="spacingAndGlyphs">1979.65</text><text x="1002" y="58.78" font-family='"Liberation Sans", Arial, sans-serif' font-size="6.0" fill="#cdd0de" textLength="17.9" lengthAdjust="spacingAndGlyphs">1976.60</text><text x="1002" y="76.54" font-family='"Liberation Sans", Arial, sans-serif' font-size="6.0" fill="#cdd0de" textLength="17.9" lengthAdjust="spacingAndGlyphs">1973.55</text><text x="1002" y="94.30" font-family='"Liberation Sans", Arial, sans-serif' font-size="6.0" fill="#cdd0de" textLength="17.9" lengthAdjust="spacingAndGlyphs">1970.50</text><text x="1002" y="112.06" font-family='"Liberation Sans", Arial, sans-serif' font-size="6.0" fill="#cdd0de" textLength="17.9" lengthAdjust="spacingAndGlyphs">1967.45</text><text x="1002" y="129.82" font-family='"Liberation Sans", Arial, sans-serif' font-size="6.0" fill="#cdd0de" textLength="17.9" lengthAdjust="spacingAndGlyphs">1964.40</text><text x="1002" y="147.58" font-family='"Liberation Sans", Arial, sans-serif' font-size="6.0" fill="#cdd0de" textLength="17.9" lengthAdjust="spacingAndGlyphs">1961.35</text><text x="1002" y="165.34" font-family='"Liberation Sans", Arial, sans-serif' font-size="6.0" fill="#cdd0de" textLength="17.9" lengthAdjust="spacingAndGlyphs">1958.30</text><text x="1002" y="183.10" font-family='"Liberation Sans", Arial, sans-serif' font-size="6.0" fill="#cdd0de" textLength="17.9" lengthAdjust="spacingAndGlyphs">1955.25</text><text x="1002" y="200.86" font-family='"Liberation Sans", Arial, sans-serif' font-size="6.0" fill="#cdd0de" textLength="17.9" lengthAdjust="spacingAndGlyphs">1952.15</text><text x="1002" y="218.62" font-family='"Liberation Sans", Arial, sans-serif' font-size="6.0" fill="#cdd0de" textLength="17.9" lengthAdjust="spacingAndGlyphs">1949.10</text><text x="1002" y="236.38" font-family='"Liberation Sans", Arial, sans-serif' font-size="6.0" fill="#cdd0de" textLength="17.9" lengthAdjust="spacingAndGlyphs">1946.05</text><text x="1002" y="254.14" font-family='"Liberation Sans", Arial, sans-serif' font-size="6.0" fill="#cdd0de" textLength="17.9" lengthAdjust="spacingAndGlyphs">1943.00</text><text x="1002" y="271.90" font-family='"Liberation Sans", Arial, sans-serif' font-size="6.0" fill="#cdd0de" textLength="17.9" lengthAdjust="spacingAndGlyphs">1939.95</text><text x="1002" y="289.66" font-family='"Liberation Sans", Arial, sans-serif' font-size="6.0" fill="#cdd0de" textLength="17.9" lengthAdjust="spacingAndGlyphs">1936.90</text><text x="1002" y="307.42" font-family='"Liberation Sans", Arial, sans-serif' font-size="6.0" fill="#cdd0de" textLength="17.9" lengthAdjust="spacingAndGlyphs">1933.85</text><text x="1002" y="325.18" font-family='"Liberation Sans", Arial, sans-serif' font-size="6.0" fill="#cdd0de" textLength="17.9" lengthAdjust="spacingAndGlyphs">1930.80</text><rect x="1000" y="154.1" width="22" height="5.7" fill="#f2f2f6"/><text x="1002.2" y="158.9" font-family='"Liberation Sans", Arial, sans-serif' font-size="6" fill="#2a2c50" textLength="17.9" lengthAdjust="spacingAndGlyphs">1959.44</text><text x="1001.2" y="332.1" font-family='"Liberation Sans", Arial, sans-serif' font-size="6.0" fill="#cdd0de" textLength="8" lengthAdjust="spacingAndGlyphs">100</text><text x="1001.2" y="348.6" font-family='"Liberation Sans", Arial, sans-serif' font-size="6.0" fill="#cdd0de" textLength="4.8" lengthAdjust="spacingAndGlyphs">70</text><text x="1001.2" y="374.8" font-family='"Liberation Sans", Arial, sans-serif' font-size="6.0" fill="#cdd0de" textLength="4.8" lengthAdjust="spacingAndGlyphs">30</text><text x="1001.2" y="390.8" font-family='"Liberation Sans", Arial, sans-serif' font-size="6.0" fill="#cdd0de" textLength="2.6" lengthAdjust="spacingAndGlyphs">0</text><text x="1001" y="399.7" font-family='"Liberation Sans", Arial, sans-serif' font-size="6.0" fill="#cdd0de" textLength="12.1" lengthAdjust="spacingAndGlyphs">5.015</text><text x="1001.2" y="424.6" font-family='"Liberation Sans", Arial, sans-serif' font-size="6.0" fill="#cdd0de" textLength="9.4" lengthAdjust="spacingAndGlyphs">0.00</text><text x="1001" y="465.8" font-family='"Liberation Sans", Arial, sans-serif' font-size="6.0" fill="#cdd0de" textLength="14.1" lengthAdjust="spacingAndGlyphs">-7.912</text><text x="3.5" y="332.6" font-family='"Liberation Sans", Arial, sans-serif' font-size="6.0" fill="#cdd0de" textLength="36.6" lengthAdjust="spacingAndGlyphs">RSI(14) 48.9030</text><text x="3.5" y="400.5" font-family='"Liberation Sans", Arial, sans-serif' font-size="6.0" fill="#cdd0de" textLength="67.2" lengthAdjust="spacingAndGlyphs">MACD(12,26,9) -0.861 -0.665</text><text x="1.15" y="474.1" font-family='"Liberation Sans", Arial, sans-serif' font-size="6.2" fill="#cdd0de" textLength="29.2" lengthAdjust="spacingAndGlyphs">29 May 2023</text><path d="M1.45 467V468.7" stroke="#a8a8c4" stroke-width="1"/><text x="35.63" y="474.1" font-family='"Liberation Sans", Arial, sans-serif' font-size="6.2" fill="#cdd0de" textLength="30.9" lengthAdjust="spacingAndGlyphs">29 May 16:00</text><path d="M35.93 467V468.7" stroke="#a8a8c4" stroke-width="1"/><text x="70.11" y="474.1" font-family='"Liberation Sans", Arial, sans-serif' font-size="6.2" fill="#cdd0de" textLength="30.9" lengthAdjust="spacingAndGlyphs">30 May 03:00</text><path d="M70.41 467V468.7" stroke="#a8a8c4" stroke-width="1"/><text x="104.59" y="474.1" font-family='"Liberation Sans", Arial, sans-serif' font-size="6.2" fill="#cdd0de" textLength="30.9" lengthAdjust="spacingAndGlyphs">30 May 11:00</text><path d="M104.89 467V468.7" stroke="#a8a8c4" stroke-width="1"/><text x="139.07" y="474.1" font-family='"Liberation Sans", Arial, sans-serif' font-size="6.2" fill="#cdd0de" textLength="30.9" lengthAdjust="spacingAndGlyphs">30 May 19:00</text><path d="M139.37 467V468.7" stroke="#a8a8c4" stroke-width="1"/><text x="173.55" y="474.1" font-family='"Liberation Sans", Arial, sans-serif' font-size="6.2" fill="#cdd0de" textLength="30.9" lengthAdjust="spacingAndGlyphs">31 May 04:00</text><path d="M173.85 467V468.7" stroke="#a8a8c4" stroke-width="1"/><text x="208.03" y="474.1" font-family='"Liberation Sans", Arial, sans-serif' font-size="6.2" fill="#cdd0de" textLength="30.9" lengthAdjust="spacingAndGlyphs">31 May 12:00</text><path d="M208.33 467V468.7" stroke="#a8a8c4" stroke-width="1"/><text x="242.51" y="474.1" font-family='"Liberation Sans", Arial, sans-serif' font-size="6.2" fill="#cdd0de" textLength="30.9" lengthAdjust="spacingAndGlyphs">31 May 20:00</text><path d="M242.81 467V468.7" stroke="#a8a8c4" stroke-width="1"/><text x="276.99" y="474.1" font-family='"Liberation Sans", Arial, sans-serif' font-size="6.2" fill="#cdd0de" textLength="25.8" lengthAdjust="spacingAndGlyphs">1 Jun 05:00</text><path d="M277.29 467V468.7" stroke="#a8a8c4" stroke-width="1"/><text x="311.47" y="474.1" font-family='"Liberation Sans", Arial, sans-serif' font-size="6.2" fill="#cdd0de" textLength="25.8" lengthAdjust="spacingAndGlyphs">1 Jun 13:00</text><path d="M311.77 467V468.7" stroke="#a8a8c4" stroke-width="1"/><text x="345.95" y="474.1" font-family='"Liberation Sans", Arial, sans-serif' font-size="6.2" fill="#cdd0de" textLength="25.8" lengthAdjust="spacingAndGlyphs">1 Jun 21:00</text><path d="M346.25 467V468.7" stroke="#a8a8c4" stroke-width="1"/><text x="380.43" y="474.1" font-family='"Liberation Sans", Arial, sans-serif' font-size="6.2" fill="#cdd0de" textLength="25.8" lengthAdjust="spacingAndGlyphs">2 Jun 06:00</text><path d="M380.73 467V468.7" stroke="#a8a8c4" stroke-width="1"/><text x="414.91" y="474.1" font-family='"Liberation Sans", Arial, sans-serif' font-size="6.2" fill="#cdd0de" textLength="25.8" lengthAdjust="spacingAndGlyphs">2 Jun 14:00</text><path d="M415.21 467V468.7" stroke="#a8a8c4" stroke-width="1"/><text x="449.39" y="474.1" font-family='"Liberation Sans", Arial, sans-serif' font-size="6.2" fill="#cdd0de" textLength="25.8" lengthAdjust="spacingAndGlyphs">2 Jun 22:00</text><path d="M449.69 467V468.7" stroke="#a8a8c4" stroke-width="1"/><text x="483.87" y="474.1" font-family='"Liberation Sans", Arial, sans-serif' font-size="6.2" fill="#cdd0de" textLength="25.8" lengthAdjust="spacingAndGlyphs">5 Jun 07:00</text><path d="M484.17 467V468.7" stroke="#a8a8c4" stroke-width="1"/><text x="518.35" y="474.1" font-family='"Liberation Sans", Arial, sans-serif' font-size="6.2" fill="#cdd0de" textLength="25.8" lengthAdjust="spacingAndGlyphs">5 Jun 15:00</text><path d="M518.65 467V468.7" stroke="#a8a8c4" stroke-width="1"/><text x="552.83" y="474.1" font-family='"Liberation Sans", Arial, sans-serif' font-size="6.2" fill="#cdd0de" textLength="25.8" lengthAdjust="spacingAndGlyphs">5 Jun 23:00</text><path d="M553.13 467V468.7" stroke="#a8a8c4" stroke-width="1"/><text x="587.31" y="474.1" font-family='"Liberation Sans", Arial, sans-serif' font-size="6.2" fill="#cdd0de" textLength="25.8" lengthAdjust="spacingAndGlyphs">6 Jun 08:00</text><path d="M587.61 467V468.7" stroke="#a8a8c4" stroke-width="1"/><text x="621.79" y="474.1" font-family='"Liberation Sans", Arial, sans-serif' font-size="6.2" fill="#cdd0de" textLength="25.8" lengthAdjust="spacingAndGlyphs">6 Jun 16:00</text><path d="M622.09 467V468.7" stroke="#a8a8c4" stroke-width="1"/><text x="656.27" y="474.1" font-family='"Liberation Sans", Arial, sans-serif' font-size="6.2" fill="#cdd0de" textLength="25.8" lengthAdjust="spacingAndGlyphs">7 Jun 01:00</text><path d="M656.57 467V468.7" stroke="#a8a8c4" stroke-width="1"/><text x="690.75" y="474.1" font-family='"Liberation Sans", Arial, sans-serif' font-size="6.2" fill="#cdd0de" textLength="25.8" lengthAdjust="spacingAndGlyphs">7 Jun 09:00</text><path d="M691.05 467V468.7" stroke="#a8a8c4" stroke-width="1"/><text x="725.23" y="474.1" font-family='"Liberation Sans", Arial, sans-serif' font-size="6.2" fill="#cdd0de" textLength="25.8" lengthAdjust="spacingAndGlyphs">7 Jun 17:00</text><path d="M725.53 467V468.7" stroke="#a8a8c4" stroke-width="1"/><text x="759.71" y="474.1" font-family='"Liberation Sans", Arial, sans-serif' font-size="6.2" fill="#cdd0de" textLength="25.8" lengthAdjust="spacingAndGlyphs">8 Jun 02:00</text><path d="M760.01 467V468.7" stroke="#a8a8c4" stroke-width="1"/><text x="794.19" y="474.1" font-family='"Liberation Sans", Arial, sans-serif' font-size="6.2" fill="#cdd0de" textLength="25.8" lengthAdjust="spacingAndGlyphs">8 Jun 10:00</text><path d="M794.49 467V468.7" stroke="#a8a8c4" stroke-width="1"/><text x="828.67" y="474.1" font-family='"Liberation Sans", Arial, sans-serif' font-size="6.2" fill="#cdd0de" textLength="25.8" lengthAdjust="spacingAndGlyphs">8 Jun 18:00</text><path d="M828.97 467V468.7" stroke="#a8a8c4" stroke-width="1"/><text x="863.15" y="474.1" font-family='"Liberation Sans", Arial, sans-serif' font-size="6.2" fill="#cdd0de" textLength="25.8" lengthAdjust="spacingAndGlyphs">9 Jun 03:00</text><path d="M863.45 467V468.7" stroke="#a8a8c4" stroke-width="1"/><text x="897.63" y="474.1" font-family='"Liberation Sans", Arial, sans-serif' font-size="6.2" fill="#cdd0de" textLength="25.8" lengthAdjust="spacingAndGlyphs">9 Jun 11:00</text><path d="M897.93 467V468.7" stroke="#a8a8c4" stroke-width="1"/><text x="932.11" y="474.1" font-family='"Liberation Sans", Arial, sans-serif' font-size="6.2" fill="#cdd0de" textLength="25.8" lengthAdjust="spacingAndGlyphs">9 Jun 19:00</text><path d="M932.41 467V468.7" stroke="#a8a8c4" stroke-width="1"/><text x="966.59" y="474.1" font-family='"Liberation Sans", Arial, sans-serif' font-size="6.2" fill="#cdd0de" textLength="28.3" lengthAdjust="spacingAndGlyphs">12 Jun 04:00</text><path d="M966.89 467V468.7" stroke="#a8a8c4" stroke-width="1"/></svg>
</body></html>
